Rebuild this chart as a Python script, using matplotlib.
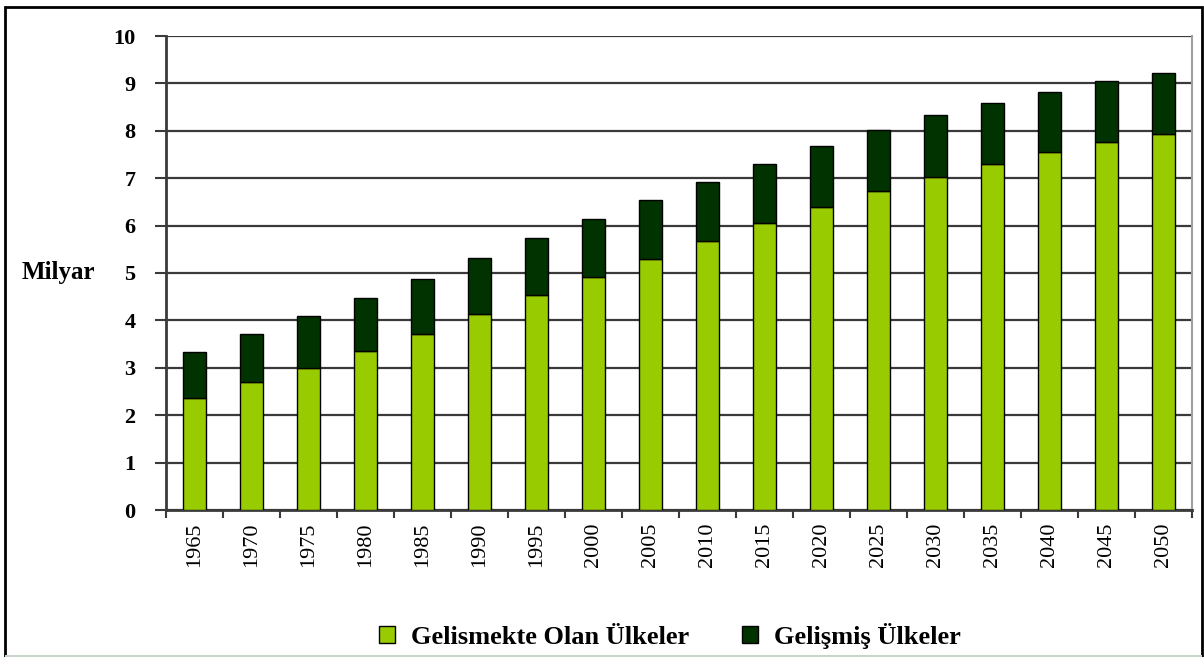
import matplotlib.pyplot as plt
from matplotlib.patches import Rectangle
import numpy as np

years = ["1965", "1970", "1975", "1980", "1985", "1990", "1995", "2000", "2005",
         "2010", "2015", "2020", "2025", "2030", "2035", "2040", "2045", "2050"]
developing = [2.36, 2.69, 3.00, 3.35, 3.72, 4.13, 4.54, 4.92, 5.29,
              5.68, 6.05, 6.40, 6.73, 7.03, 7.30, 7.56, 7.77, 7.93]
total = [3.34, 3.71, 4.09, 4.47, 4.87, 5.32, 5.74, 6.13, 6.53,
         6.91, 7.31, 7.68, 8.02, 8.33, 8.59, 8.82, 9.05, 9.22]
developed = [t - d for t, d in zip(total, developing)]

plt.rcParams['font.family'] = 'serif'
plt.rcParams['font.serif'] = ['Liberation Serif']

fig = plt.figure(figsize=(12.04, 6.57), dpi=100)
ax = fig.add_axes([166 / 1204, 147 / 657, (1192 - 166) / 1204, (510 - 36) / 657])

x = np.arange(len(years))
ax.bar(x, developing, width=0.4, color="#99cc00", edgecolor="black", linewidth=1,
       label="Gelismekte Olan Ülkeler", zorder=3)
ax.bar(x, developed, width=0.4, bottom=developing, color="#003300", edgecolor="black",
       linewidth=1, label="Gelişmiş Ülkeler", zorder=3)

ax.set_xlim(-0.5, len(years) - 0.5)
ax.set_ylim(0, 10)
ax.set_yticks(range(0, 11))
ax.yaxis.grid(True, color="#3a3a3a", linewidth=1.6, zorder=0)
ax.set_axisbelow(True)

ax.set_xticks(x)
ax.set_xticklabels(years, rotation=90, fontsize=16)
ax.set_xticks(np.arange(-0.5, len(years)), minor=True)
ax.tick_params(axis="x", which="major", length=0, pad=9)
ax.tick_params(axis="x", which="minor", length=6, width=1.5, color="#3a3a3a")
ax.tick_params(axis="y", length=8, width=1.5, color="#3a3a3a", pad=14, labelsize=16)
for lbl in ax.get_yticklabels():
    lbl.set_fontweight("bold")

ax.spines["left"].set_color("#3a3a3a")
ax.spines["left"].set_linewidth(2)
ax.spines["bottom"].set_color("#3a3a3a")
ax.spines["bottom"].set_linewidth(2)
ax.spines["right"].set_color("#a0a0a0")
ax.spines["right"].set_linewidth(1.5)
ax.spines["top"].set_visible(False)

fig.text(22 / 1204, 1 - 272 / 657, "Milyar", fontsize=18, fontweight="bold", va="center")

ax.legend(loc="center", bbox_to_anchor=(670 / 1204, 1 - 636 / 657), bbox_transform=fig.transFigure,
          ncol=2, frameon=False, prop={"size": 19, "weight": "bold"},
          handlelength=0.6, handleheight=0.6, columnspacing=2.0, handletextpad=0.6)

# outer frame
fig.patches.append(Rectangle((5 / 1204, 0), 1197 / 1204, 650 / 657, transform=fig.transFigure,
                             fill=False, edgecolor="black", linewidth=2))
fig.patches.append(Rectangle((5 / 1204, 0), 1197 / 1204, 2 / 657, transform=fig.transFigure,
                             color="#c8d4c8", linewidth=0))

fig.savefig("out.png", dpi=100)
